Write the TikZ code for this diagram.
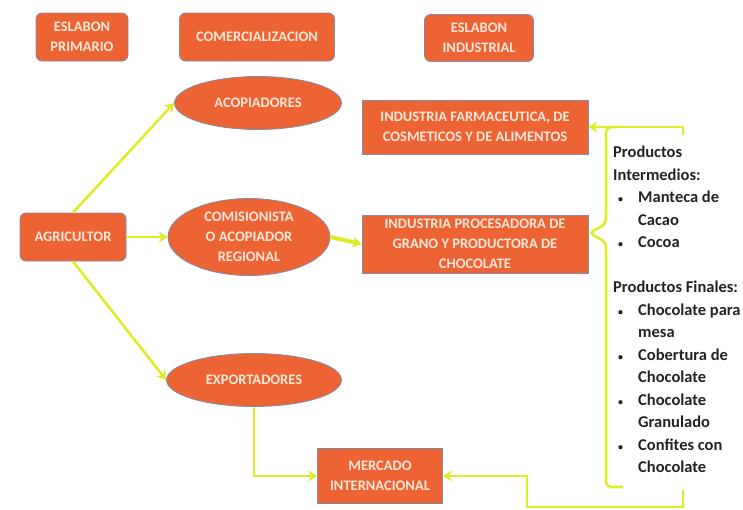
\documentclass[tikz,border=0pt]{standalone}
\usepackage{fontspec}
\setmainfont{Carlito}
\usetikzlibrary{shapes.geometric,arrows.meta}
\definecolor{naranja}{RGB}{238,99,52}
\definecolor{borde}{RGB}{130,140,165}
\definecolor{amarillo}{RGB}{222,236,40}
\definecolor{letra}{RGB}{255,232,218}
\definecolor{texto}{RGB}{35,35,35}
\newcommand{\vineta}{\hspace{5pt}{\fontsize{10}{10}\selectfont\textbullet}}

\begin{document}
\begin{tikzpicture}[x=1pt,y=-1pt,
		caja/.style={rectangle,fill=naranja,draw=borde,line width=0.8pt,text=letra,
			font=\bfseries\fontsize{14.5}{20}\selectfont,align=center,inner sep=0pt},
		cajar/.style={caja,rounded corners=6pt},
		elipse/.style={caja,ellipse,inner sep=-3pt},
		linea/.style={draw=amarillo,line width=2.6pt},
		flecha/.style={linea,-{Stealth[length=9pt,width=11pt]}}]
	\useasboundingbox (0,0) rectangle (743,509);

	\node (prim) at (82,37) [cajar,minimum width=92,minimum height=48] {ESLABON\\PRIMARIO};
	\node (comer) at (257,37) [cajar,minimum width=155,minimum height=48] {COMERCIALIZACION};
	\node (indus) at (479,38) [cajar,minimum width=109,minimum height=47] {ESLABON\\INDUSTRIAL};

	\node (agri) at (73,237) [cajar,minimum width=106,minimum height=48] {AGRICULTOR};
	\node (acop) at (258,103) [elipse,minimum width=167,minimum height=53] {ACOPIADORES};
	\node (comis) at (249,237) [elipse,minimum width=162,minimum height=77] {COMISIONISTA\\O ACOPIADOR\\REGIONAL};
	\node (expo) at (254,380) [elipse,minimum width=175,minimum height=53] {EXPORTADORES};

	\node (farma) at (475,127) [caja,minimum width=226,minimum height=54] {INDUSTRIA FARMACEUTICA, DE\\COSMETICOS Y DE ALIMENTOS};
	\node (proc) at (475,244) [caja,minimum width=226,minimum height=58] {INDUSTRIA PROCESADORA DE\\GRANO Y PRODUCTORA DE\\CHOCOLATE};
	\node (merc) at (380,476) [caja,minimum width=125,minimum height=55] {MERCADO\\INTERNACIONAL};

	\node (prod) at (613,142) [anchor=north west,inner sep=0pt,text=texto,
		font=\bfseries\fontsize{16.5}{22.5}\selectfont] {%
		\begin{tabular}{@{}p{25pt}@{}l@{}}
			\multicolumn{2}{@{}l@{}}{Productos}\\
			\multicolumn{2}{@{}l@{}}{Intermedios:}\\
			\vineta & Manteca de\\
			& Cacao\\
			\vineta & Cocoa\\
			& \\
			\multicolumn{2}{@{}l@{}}{Productos Finales:}\\
			\vineta & Chocolate para\\
			& mesa\\
			\vineta & Cobertura de\\
			& Chocolate\\
			\vineta & Chocolate\\
			& Granulado\\
			\vineta & Confites con\\
			& Chocolate
		\end{tabular}};

	\coordinate (bktop) at (683,135);
	\coordinate (bktip) at (589,233);
	\coordinate (bkbot) at (683,490);
	\coordinate (giro) at (527,507);

	\draw[flecha] (agri.north) -- (acop.west);
	\draw[flecha] (agri.east) -- (comis.west);
	\draw[flecha] (agri.south) -- (expo.west);
	\draw[flecha,line width=4pt] (comis.east) -- (proc.west);
	\draw[flecha] (expo.south) |- (merc.west);

	\draw[flecha] (bktop) |- (farma.east);
	\draw[linea,rounded corners=5pt] (616,127) -| (606,224) -- (bktip) -- (606,242) |- (623,487);
	\draw[flecha] (bkbot) |- (giro) |- (merc.east);

\end{tikzpicture}
\end{document}
